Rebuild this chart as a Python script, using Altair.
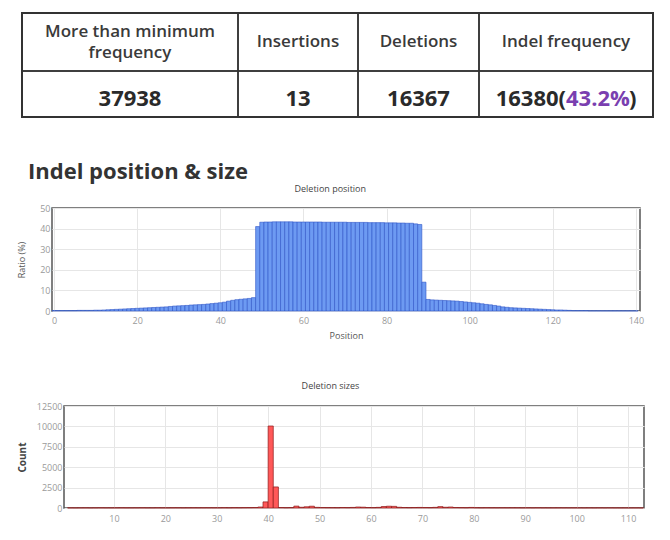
import altair as alt
import pandas as pd

# ---------------- data ----------------
table_headers = ["More than minimum\nfrequency", "Insertions", "Deletions", "Indel frequency"]
table_values = ["37938", "13", "16367", "16380("]
indel_pct = "43.2%"
heading = "Indel position & size"

positions = list(range(0, 141))
ratios = [
    0.2, 0.2, 0.2, 0.2, 0.2, 0.2, 0.3, 0.3, 0.3, 0.3,
    0.4, 0.4, 0.5, 0.6, 0.7, 0.8, 0.9, 1.0, 1.1, 1.2,
    1.3, 1.4, 1.5, 1.6, 1.7, 1.8, 1.9, 2.0, 2.2, 2.4,
    2.5, 2.6, 2.7, 2.9, 3.0, 3.1, 3.2, 3.4, 3.6, 3.8,
    4.0, 4.3, 4.8, 5.2, 5.5, 5.7, 5.9, 6.1, 6.5,
    41.0,
    43.1, 43.2, 43.2, 43.3, 43.3, 43.3, 43.3, 43.3, 43.2, 43.2,
    43.2, 43.2, 43.2, 43.2, 43.2, 43.1, 43.1, 43.1, 43.1, 43.1,
    43.1, 43.0, 43.0, 43.0, 43.0, 43.0, 42.9, 42.9, 42.9, 42.9,
    42.8, 42.8, 42.8, 42.7, 42.7, 42.6, 42.6, 42.3, 42.0,
    14.0,
    5.6, 5.4, 5.3, 5.2, 5.1, 5.0, 4.9, 4.8, 4.6, 4.4,
    4.2, 4.0, 3.8, 3.5, 3.2, 3.0, 2.7, 2.4, 2.0, 1.8,
    1.6, 1.5, 1.4, 1.3, 1.2, 1.1, 1.0, 0.9, 0.8, 0.7,
    0.6, 0.5, 0.5, 0.4, 0.3, 0.2, 0.2, 0.2, 0.2, 0.1,
    0.1, 0.1, 0.1, 0.1, 0.1, 0.1, 0.1, 0.1, 0.1, 0.1, 0.1,
]

sizes = list(range(1, 113))
counts = [
    20, 15, 18, 22, 15, 20, 25, 18, 20, 22,
    25, 20, 18, 22, 25, 20, 18, 25, 22, 20,
    25, 28, 22, 25, 30, 25, 28, 30, 25, 30,
    35, 30, 40, 35, 45, 50, 60, 120,
    750, 10050, 2580,
    60, 40, 50, 230, 90, 150, 220, 80, 60,
    50, 45, 40, 60, 50, 70, 120, 100, 60, 50,
    80, 180, 220, 200, 90, 60, 50, 60, 70, 60,
    50, 80, 170, 90, 120, 60, 50, 40, 70, 40,
    30, 35, 30, 25, 30, 25, 30, 25, 20, 25,
    20, 25, 20, 18, 20, 22, 20, 18, 20, 18,
    15, 18, 15, 20, 15, 18, 15, 12, 15, 12, 15, 10,
]

# ---------------- layout constants ----------------
FONT = "Open Sans"
col_widths = [216, 120, 121, 174]
row_heights = [58, 46]
edges = [0]
for w in col_widths:
    edges.append(edges[-1] + w)
row_edges = [0]
for h in row_heights:
    row_edges.append(row_edges[-1] + h)
centers = [(edges[i] + edges[i + 1]) / 2 for i in range(len(col_widths))]
row_mid = [(row_edges[i] + row_edges[i + 1]) / 2 for i in range(len(row_heights))]

LEFT_GAP = 8
TABLE_W = edges[-1] + LEFT_GAP + 1
tx = alt.Scale(domain=[-LEFT_GAP, edges[-1] + 1], nice=False, zero=False)
ty = alt.Scale(domain=[0, row_edges[-1]], nice=False, zero=False, reverse=True)

cells = pd.DataFrame([
    {"x": edges[c], "x2": edges[c + 1], "y": row_edges[r], "y2": row_edges[r + 1]}
    for r in range(len(row_heights)) for c in range(len(col_widths))
])
outer = pd.DataFrame([{"x": edges[0], "x2": edges[-1], "y": row_edges[0], "y2": row_edges[-1]}])
hdr_multi = pd.DataFrame({"label": table_headers[:1], "cx": centers[:1], "cy": row_mid[0]})
hdr_single = pd.DataFrame({"label": table_headers[1:], "cx": centers[1:], "cy": row_mid[0]})
vals = pd.DataFrame({"label": table_values[:3], "cx": centers[:3], "cy": row_mid[1]})
last = pd.DataFrame({"a": [table_values[3]], "b": [indel_pct], "c": [")"], "cx": [centers[3]], "cy": [row_mid[1]]})

def rects(df, sw):
    return alt.Chart(df).mark_rect(fill="white", fillOpacity=0, stroke="#333333", strokeWidth=sw).encode(
        x=alt.X("x:Q", scale=tx, axis=None), x2="x2:Q",
        y=alt.Y("y:Q", scale=ty, axis=None), y2="y2:Q")

def txt(df, **kw):
    return alt.Chart(df).mark_text(font=FONT, baseline="middle", **kw).encode(
        x=alt.X("cx:Q", scale=tx, axis=None), y=alt.Y("cy:Q", scale=ty, axis=None))

hdr_text1 = txt(hdr_multi, fontSize=17, fontWeight=600, color="#3a3a3a", lineBreak="\n",
                lineHeight=21, dy=-10.5).encode(text="label:N")
hdr_text2 = txt(hdr_single, fontSize=17, fontWeight=600, color="#3a3a3a").encode(text="label:N")
val_text = txt(vals, fontSize=22, fontWeight="bold", color="#2a2a2a", dy=5).encode(text="label:N")
t_a = txt(last, fontSize=22, fontWeight="bold", color="#2a2a2a", align="right", dy=5).encode(text="a:N")
t_b = txt(last, fontSize=22, fontWeight="bold", color="#7a3fb0", align="left", dy=5).encode(text="b:N")
t_c = txt(last, fontSize=22, fontWeight="bold", color="#2a2a2a", align="left", dy=5, dx=63).encode(text="c:N")

table_chart = alt.layer(rects(cells, 1.5), rects(outer, 2), hdr_text1, hdr_text2, val_text,
                        t_a, t_b, t_c).properties(
    width=TABLE_W, height=row_edges[-1],
    view=alt.ViewBackground(stroke="transparent"),
    title=alt.TitleParams(heading, orient="bottom", anchor="start", offset=44, dx=14,
                          font=FONT, fontSize=22, fontWeight="bold", color="#333333"),
)

def axis_common(**kw):
    base = dict(labelFont=FONT, labelFontSize=9, labelColor="#9a9a9a", ticks=False, domain=False,
                grid=True, gridColor="#e6e6e6", titleFont=FONT, titleFontSize=9, titleColor="#555555",
                titleFontWeight="normal")
    base.update(kw)
    return alt.Axis(**base)

pos_df = pd.DataFrame({"pos": positions, "ratio": ratios})
pos_chart = alt.Chart(pos_df).transform_calculate(
    x0="datum.pos - 0.5", x1="datum.pos + 0.5", zero="0"
).mark_bar(fill="#6d9af2", stroke="#2f55c8", strokeWidth=0.6).encode(
    x=alt.X("x0:Q", scale=alt.Scale(domain=[-0.5, 141], nice=False, zero=False),
            axis=axis_common(values=list(range(0, 141, 20)), title="Position", labelPadding=5, titlePadding=6)),
    x2="x1:Q",
    y=alt.Y("ratio:Q", scale=alt.Scale(domain=[0, 50], nice=False),
            axis=axis_common(values=list(range(0, 51, 10)), title="Ratio (%)", labelPadding=2,
                             minExtent=14, maxExtent=14, titlePadding=12)),
    y2="zero:Q",
).properties(
    width=588, height=103,
    title=alt.TitleParams("Deletion position", font=FONT, fontSize=9, fontWeight="normal",
                          color="#444444", offset=10, frame="bounds"),
)

size_df = pd.DataFrame({"size": sizes, "count": counts})
size_chart = alt.Chart(size_df).transform_calculate(
    s1="datum.size + 1", zero="0"
).mark_bar(fill="#ff5858", stroke="#8b1a1a", strokeWidth=0.7).encode(
    x=alt.X("size:Q", scale=alt.Scale(domain=[0.3, 113.1], nice=False, zero=False),
            axis=axis_common(values=list(range(10, 111, 10)), title=None, labelPadding=6)),
    x2="s1:Q",
    y=alt.Y("count:Q", scale=alt.Scale(domain=[0, 12500], nice=False),
            axis=axis_common(values=list(range(0, 12501, 2500)), format="d", title="Count", labelPadding=2,
                             minExtent=29, maxExtent=29, titlePadding=8, titleFontSize=10,
                             titleFontWeight="bold", titleColor="#444444")),
    y2="zero:Q",
).properties(
    width=580, height=102,
    title=alt.TitleParams("Deletion sizes", font=FONT, fontSize=9, fontWeight="normal",
                          color="#444444", offset=11, frame="bounds"),
)

def spacer(w):
    return alt.Chart(pd.DataFrame({"v": [0]})).mark_point(size=1, opacity=0).encode(
        x=alt.value(0), y=alt.value(0)
    ).properties(width=w, height=1, view=alt.ViewBackground(stroke="transparent"))

row_pos = alt.hconcat(spacer(1), pos_chart, spacing=0)
row_size = alt.hconcat(spacer(1), size_chart, spacing=0)

charts = alt.vconcat(row_pos, row_size, spacing=40)

chart = alt.vconcat(table_chart, charts, spacing=0).properties(
    padding={"left": 4, "top": 3, "right": 0, "bottom": 0}
).configure_view(stroke="#555555", strokeWidth=1.5)

chart.save("out.html", embed_options={"renderer": "svg", "actions": False})
